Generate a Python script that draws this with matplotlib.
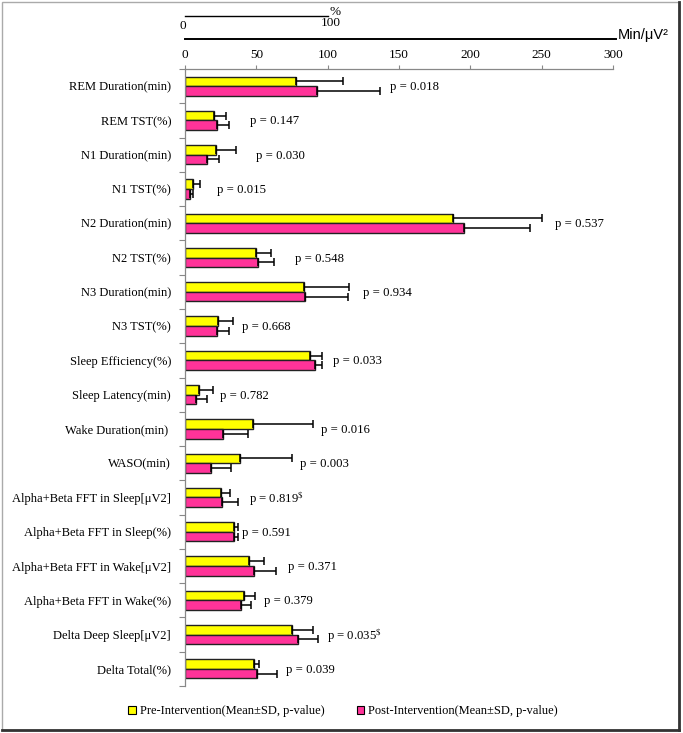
import numpy as np
import matplotlib.pyplot as plt
import matplotlib.transforms as mtransforms
from matplotlib.patches import Patch, Rectangle
from matplotlib.lines import Line2D

plt.rcParams['font.family'] = ['Liberation Serif', 'DejaVu Serif']
plt.rcParams['mathtext.fontset'] = 'stix'

# data
labels = ["REM Duration(min)", "REM TST(%)", "N1 Duration(min)", "N1 TST(%)",
          "N2 Duration(min)", "N2 TST(%)", "N3 Duration(min)", "N3 TST(%)",
          "Sleep Efficiency(%)", "Sleep Latency(min)", "Wake Duration(min) ",
          "WASO(min)", "Alpha+Beta FFT in Sleep[\u03bcV2]",
          "Alpha+Beta FFT in Sleep(%)", "Alpha+Beta FFT in Wake[\u03bcV2]",
          "Alpha+Beta FFT in Wake(%)", "Delta Deep Sleep[\u03bcV2]", "Delta Total(%)"]
pre_mean = [77.8, 20.5, 22.0, 5.8, 188.0, 49.5, 83.4, 23.4, 87.6, 9.8,
            47.9, 38.5, 25.0, 34.6, 45.1, 41.6, 74.8, 48.4]
pre_sd = [33.0, 8.2, 13.7, 4.7, 62.4, 10.8, 31.6, 10.0, 8.2, 9.6,
          41.6, 36.7, 6.3, 2.8, 10.5, 7.5, 15.1, 3.5]
post_mean = [92.3, 22.7, 15.4, 3.7, 195.7, 51.0, 84.1, 22.2, 91.3, 7.9,
             26.4, 18.4, 26.1, 34.1, 48.4, 39.5, 79.0, 50.2]
post_sd = [44.3, 8.3, 8.4, 2.1, 46.1, 11.1, 30.4, 8.4, 4.9, 7.5,
           18.0, 13.6, 11.3, 3.3, 15.4, 6.5, 14.0, 14.1]
p_values = ["0.018", "0.147", "0.030", "0.015", "0.537", "0.548", "0.934", "0.668",
            "0.033", "0.782", "0.016", "0.003", "0.819", "0.591", "0.371", "0.379",
            "0.035", "0.039"]
p_mark = ["", "", "", "", "", "", "", "", "", "", "", "", "$", "", "", "", "$", ""]

# gap between the longest error bar and the p-value text (data units)
p_gap = [7, 14.5, 14, 12, 9, 15, 10, 6.7, 7.7, 5.1, 5.6, 5.4, 7.7, 2.8, 8.6, 6.5, 6.7, 6.5]

pre_color = '#FFFF00'
post_color = '#FF3399'

fig = plt.figure(figsize=(6.83, 7.33), dpi=100)
ax = fig.add_axes([185/683, 1-686/733, 428/683, 617/733])

y = np.arange(len(labels))
h = 0.28
ax.barh(y - h/2, pre_mean, height=h, color=pre_color, edgecolor='#222222', linewidth=1.0,
        xerr=[np.zeros(len(pre_sd)), pre_sd], capsize=2.6,
        error_kw=dict(ecolor='black', elinewidth=1.1, capthick=1.1))
ax.barh(y + h/2, post_mean, height=h, color=post_color, edgecolor='#222222', linewidth=1.0,
        xerr=[np.zeros(len(post_sd)), post_sd], capsize=2.6,
        error_kw=dict(ecolor='black', elinewidth=1.1, capthick=1.1))

for i in range(len(labels)):
    xe = max(pre_mean[i] + pre_sd[i], post_mean[i] + post_sd[i]) + p_gap[i]
    txt = "p = " + p_values[i]
    if p_mark[i]:
        txt += r"$^{\$}$"
    ax.text(xe, y[i] + 0.03, txt, fontsize=9.2, va='center', ha='left')

ax.set_xlim(0, 300)
ax.set_ylim(len(labels) - 0.5, -0.5)
ax.xaxis.tick_top()
ax.set_xticks(np.arange(0, 301, 50))
ax.tick_params(axis='x', direction='out', length=3, width=0.8, color='#888888',
               labelsize=9.5, pad=3)
ax.set_yticks(y)
ax.set_yticklabels(labels, fontsize=9)
ax.set_yticks(np.arange(-0.5, len(labels), 1), minor=True)
ax.tick_params(axis='y', which='major', length=0, pad=10)
ax.tick_params(axis='y', which='minor', length=4, width=0.8, color='#888888')
for s in ['right', 'bottom']:
    ax.spines[s].set_visible(False)
for s in ['top', 'left']:
    ax.spines[s].set_color('#888888')
    ax.spines[s].set_linewidth(0.9)

# extra scale lines above the axis
trans = mtransforms.blended_transform_factory(ax.transData, ax.transAxes)
ax.plot([0, 302], [1.0486, 1.0486], transform=trans, color='black', lw=1.4, clip_on=False)
ax.text(303, 1.055, "Min/\u03bcV\u00b2", transform=trans, family='Liberation Sans',
        fontsize=10.5, va='center', ha='left')
ax.plot([0, 100], [1.0864, 1.0864], transform=trans, color='black', lw=1.0, clip_on=False)
ax.text(101, 1.092, "%", transform=trans, fontsize=9.5, va='center', ha='left')
ax.text(-1.5, 1.070, "0", transform=trans, fontsize=9.5, va='center', ha='center')
ax.text(102, 1.074, "100", transform=trans, fontsize=9.5, va='center', ha='center')

# legend
handles = [Patch(facecolor=pre_color, edgecolor='black', linewidth=0.8),
           Patch(facecolor=post_color, edgecolor='black', linewidth=0.8)]
fig.legend(handles, ["Pre-Intervention(Mean\u00b1SD, p-value)",
                     "Post-Intervention(Mean\u00b1SD, p-value)"],
           loc='center', bbox_to_anchor=(343/683, 1-711/733), ncol=2, frameon=False,
           fontsize=9, handlelength=0.6, handleheight=0.6, handletextpad=0.3,
           columnspacing=2.6)

# outer frame
fig.add_artist(Rectangle((2/683, 3/733), 677/683, 728/733, transform=fig.transFigure,
                         fill=False, edgecolor='#aaaaaa', linewidth=1))
fig.add_artist(Line2D([679/683, 679/683], [3/733, 731/733], transform=fig.transFigure,
                      color='#333333', linewidth=2))
fig.add_artist(Line2D([2/683, 679/683], [3/733, 3/733], transform=fig.transFigure,
                      color='#333333', linewidth=2))

fig.savefig("out.png", dpi=100)
